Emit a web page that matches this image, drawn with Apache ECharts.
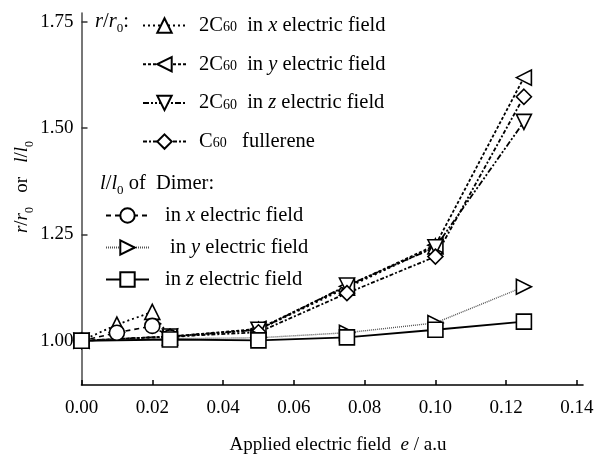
<!DOCTYPE html>
<html><head><meta charset="utf-8">
<script src="https://cdn.jsdelivr.net/npm/echarts@6/dist/echarts.min.js"></script>
<style>html,body{margin:0;padding:0;background:#fff}#c{width:595px;height:455px}</style>
</head><body><div id="c"></div>
<script>
// ---- data ----
const xTicks = [0, 0.02, 0.04, 0.06, 0.08, 0.10, 0.12, 0.14];
const yTicks = [1.00, 1.25, 1.50, 1.75];
const fieldC2x = [0, 0.01, 0.02, 0.025, 0.05, 0.075, 0.10];
const c2x = [1.000, 1.038, 1.068, 1.008, 1.026, 1.125, 1.222];
const fieldFull = [0, 0.025, 0.05, 0.075, 0.10, 0.125];
const c2y = [1.000, 1.010, 1.028, 1.128, 1.225, 1.619];
const c2z = [1.000, 1.010, 1.026, 1.130, 1.220, 1.515];
const c60 = [1.000, 1.010, 1.020, 1.112, 1.198, 1.574];
const fieldDimerX = [0, 0.01, 0.02, 0.025];
const dimerX = [1.000, 1.019, 1.035, 1.008];
const dimerY = [1.000, 1.005, 1.007, 1.019, 1.042, 1.127];
const dimerZ = [1.000, 1.003, 1.001, 1.008, 1.026, 1.045];

const names = ['2C60 in x electric field','2C60 in y electric field','2C60 in z electric field','C60 fullerene',
  'Dimer in x electric field','Dimer in y electric field','Dimer in z electric field'];

const FONT = '"Liberation Serif", "DejaVu Serif", serif';
const pairs = (xs, ys) => xs.map((x, i) => [x, ys[i]]);

const richAxis = {
  n: {fontFamily: FONT, fontSize: 19, color: '#000', lineHeight: 22},
  i: {fontFamily: FONT, fontSize: 19, fontStyle: 'italic', color: '#000', lineHeight: 22},
  s: {fontFamily: FONT, fontSize: 12, color: '#000', lineHeight: 12, verticalAlign: 'bottom', padding: [0,0,-3,0]}
};
const richLeg = {
  n: {fontFamily: FONT, fontSize: 20.5, color: '#000', lineHeight: 22},
  i: {fontFamily: FONT, fontSize: 20.5, fontStyle: 'italic', color: '#000', lineHeight: 22},
  c: {fontFamily: FONT, fontSize: 14, color: '#000', lineHeight: 12, verticalAlign: 'bottom', padding: [0,0,2,0]},
  s: {fontFamily: FONT, fontSize: 13, color: '#000', lineHeight: 12, verticalAlign: 'bottom', padding: [0,0,-3,0]},
  sp8: {width: 8}, sp11: {width: 11}, sp16: {width: 16}
};
const legendText = {
  '2C60 in x electric field': '{sp8|}{n|2C}{c|60}{n|  in }{i|x}{n| electric field}',
  '2C60 in y electric field': '{sp8|}{n|2C}{c|60}{n|  in }{i|y}{n| electric field}',
  '2C60 in z electric field': '{sp8|}{n|2C}{c|60}{n|  in }{i|z}{n| electric field}',
  'C60 fullerene': '{sp8|}{n|C}{c|60}{n|   fullerene}',
  'Dimer in x electric field': '{sp11|}{n|in }{i|x}{n| electric field}',
  'Dimer in y electric field': '{sp16|}{n|in }{i|y}{n| electric field}',
  'Dimer in z electric field': '{sp11|}{n|in }{i|z}{n| electric field}'
};

function mk(name, data, symbol, rot, dash, lw, lcolor) {
  return {
    name, type: 'line', data, symbol, symbolSize: 15, symbolRotate: rot, clip: false,
    itemStyle: {color: '#fff', borderColor: '#000', borderWidth: 1.6},
    lineStyle: {color: lcolor || '#000', width: lw, type: dash},
    emphasis: {disabled: true}, animation: false
  };
}

const chart = echarts.init(document.getElementById('c'));
chart.setOption({
  animation: false,
  grid: {left: 81.5, right: 12, top: 13, bottom: 70, outerBoundsMode: 'none'},
  xAxis: {
    type: 'value', min: 0, max: 0.1417,
    axisLine: {lineStyle: {color: '#000', width: 1.6}},
    axisTick: {inside: true, length: 5, customValues: xTicks, lineStyle: {color: '#000', width: 1.5}},
    axisLabel: {customValues: xTicks, formatter: v => v.toFixed(2), fontFamily: FONT, fontSize: 19, color: '#000', margin: 14},
    splitLine: {show: false}
  },
  yAxis: {
    type: 'value', min: 0.896, max: 1.771,
    axisLine: {show: true, lineStyle: {color: '#555', width: 1.6}},
    axisTick: {show: true, inside: true, length: 6, customValues: yTicks, lineStyle: {color: '#333', width: 1.5}},
    axisLabel: {customValues: yTicks, formatter: v => v.toFixed(2), fontFamily: FONT, fontSize: 19, color: '#000', margin: 8},
    splitLine: {show: false}
  },
  legend: [
    {data: names.slice(0, 4), orient: 'vertical', left: 137, top: 10, itemWidth: 43, itemHeight: 18, itemGap: 17.2,
     selectedMode: false, formatter: n => legendText[n], textStyle: {rich: richLeg}},
    {data: names.slice(4), orient: 'vertical', left: 100, top: 200, itemWidth: 43, itemHeight: 18, itemGap: 11,
     selectedMode: false, formatter: n => legendText[n], textStyle: {rich: richLeg}}
  ],
  graphic: [
    {type: 'text', left: 95, top: 11, style: {
      text: '{i|r}{n|/}{i|r}{s|0}{n|:}', rich: richLeg}},
    {type: 'text', left: 100, top: 173, style: {
      text: '{i|l}{n|/}{i|l}{s|0}{n| of  Dimer:}', rich: richLeg}},
    {type: 'text', x: 22, y: 187, rotation: Math.PI / 2, style: {
      text: '{i|r}{n|/}{i|r}{s|0}{n|   or   }{i|l}{n|/}{i|l}{s|0}', rich: richAxis, align: 'center', verticalAlign: 'middle'}},
    {type: 'text', x: 338, y: 445, style: {
      text: '{n|Applied electric field  }{i|e}{n| / a.u}', rich: richAxis, align: 'center', verticalAlign: 'middle'}}
  ],
  series: [
    mk(names[0], pairs(fieldC2x, c2x), 'triangle', 0, [2, 3], 1.8),
    mk(names[1], pairs(fieldFull, c2y), 'triangle', 90, [3, 2], 1.8),
    mk(names[2], pairs(fieldFull, c2z), 'triangle', 180, [6, 2, 2, 2, 2, 2], 1.8),
    mk(names[3], pairs(fieldFull, c60), 'diamond', 0, [4, 2, 2, 2], 1.8),
    mk(names[4], pairs(fieldDimerX, dimerX), 'circle', 0, [5, 4], 1.6),
    mk(names[5], pairs(fieldFull, dimerY), 'triangle', -90, [1, 1], 1.4, '#555'),
    mk(names[6], pairs(fieldFull, dimerZ), 'rect', 0, 'solid', 1.8)
  ]
});
</script></body></html>
